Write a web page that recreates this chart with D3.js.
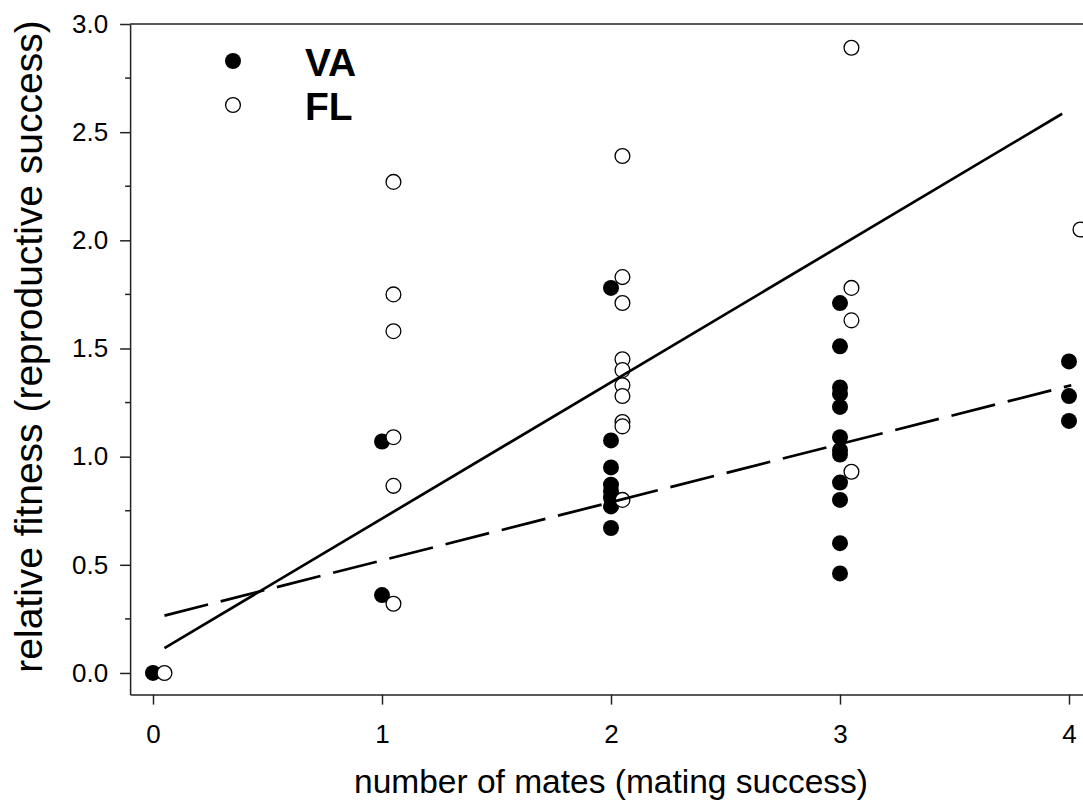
<!DOCTYPE html>
<html>
<head>
<meta charset="utf-8">
<script src="https://cdn.jsdelivr.net/npm/d3@7/dist/d3.min.js"></script>
<style>
  html, body { margin: 0; padding: 0; background: #fff; }
  svg { display: block; }
  text { font-family: Arial, "Liberation Sans", sans-serif; fill: #000; }
</style>
</head>
<body>
<svg id="chart" width="1083" height="812"></svg>
<script>
// Number of mates (mating success) for each group of males
const mates = [0, 1, 2, 3, 4];

// Relative fitness values per mate count, VA population
const vaFitness = [
  [0],
  [1.07, 0.36],
  [1.78, 1.075, 0.95, 0.87, 0.84, 0.81, 0.77, 0.67],
  [1.71, 1.51, 1.32, 1.29, 1.23, 1.09, 1.03, 1.01, 0.88, 0.80, 0.60, 0.46],
  [1.44, 1.28, 1.165]
];

// Relative fitness values per mate count, FL population
const flFitness = [
  [0],
  [2.27, 1.75, 1.58, 1.09, 0.865, 0.32],
  [2.39, 1.83, 1.71, 1.45, 1.40, 1.33, 1.28, 1.16, 1.14, 0.80],
  [2.89, 1.78, 1.63, 0.93],
  [2.05]
];

// Regression line end points
const vaFitX = [0.05, 4.01];
const vaFitY = [0.265, 1.33];
const flFitX = [0.05, 3.97];
const flFitY = [0.115, 2.585];

// Axis ticks
const xTicks = [0, 1, 2, 3, 4];
const yTicks = [0, 0.5, 1.0, 1.5, 2.0, 2.5, 3.0];
const yMinorTicks = [0.25, 0.75, 1.25, 1.75, 2.25, 2.75];

const seriesNames = ["VA", "FL"];

// FL points are nudged right so they do not hide the VA points
const flShift = 0.05;

const svg = d3.select("#chart");

const x = d3.scaleLinear().domain([-0.1, 4.2]).range([130.1, 1114.8]);
const y = d3.scaleLinear().domain([-0.1, 3.0]).range([694.6, 24]);

const points = (groups, shift) =>
  groups.flatMap((vals, i) => vals.map(v => ({ x: mates[i] + shift, y: v })));

const r = 8;

// frame line along the top
svg.append("line")
  .attr("x1", x(-0.1)).attr("x2", x(4.2))
  .attr("y1", y(3.0)).attr("y2", y(3.0))
  .attr("stroke", "#222").attr("stroke-width", 1.6);

// y axis
const yAxis = svg.append("g")
  .attr("transform", `translate(${x(-0.1)},0)`)
  .call(d3.axisLeft(y).tickValues(yTicks).tickFormat(d3.format(".1f"))
    .tickSize(10).tickSizeOuter(0).tickPadding(12));
yAxis.call(g => g.selectAll("text").attr("font-size", 26).attr("font-family", null));
yAxis.selectAll("path, line").attr("stroke", "#222").attr("stroke-width", 1.5);

svg.append("g")
  .attr("transform", `translate(${x(-0.1)},0)`)
  .selectAll("line").data(yMinorTicks).join("line")
  .attr("x1", -5).attr("x2", 0)
  .attr("y1", d => y(d)).attr("y2", d => y(d))
  .attr("stroke", "#222").attr("stroke-width", 1.5);

// x axis
const xAxis = svg.append("g")
  .attr("transform", `translate(0,${y(-0.1)})`)
  .call(d3.axisBottom(x).tickValues(xTicks).tickFormat(d3.format("d"))
    .tickSize(10).tickSizeOuter(0).tickPadding(20));
xAxis.call(g => g.selectAll("text").attr("font-size", 26).attr("font-family", null));
xAxis.selectAll("path, line").attr("stroke", "#222").attr("stroke-width", 1.5);

// axis titles
svg.append("text")
  .attr("x", x(2)).attr("y", 793)
  .attr("text-anchor", "middle")
  .attr("font-size", 33.5)
  .text("number of mates (mating success)");

svg.append("text")
  .attr("transform", `translate(42,${y(1.5) - 2}) rotate(-90)`)
  .attr("text-anchor", "middle")
  .attr("font-size", 39)
  .text("relative fitness (reproductive success)");

// VA points (filled)
svg.append("g").selectAll("circle").data(points(vaFitness, 0)).join("circle")
  .attr("cx", d => x(d.x)).attr("cy", d => y(d.y)).attr("r", r)
  .attr("fill", "#000");

// FL points (open)
svg.append("g").selectAll("circle").data(points(flFitness, flShift)).join("circle")
  .attr("cx", d => x(d.x)).attr("cy", d => y(d.y)).attr("r", r - 0.6)
  .attr("fill", "#fff").attr("stroke", "#000").attr("stroke-width", 1.3);

// regression lines
const line = d3.line().x(d => x(d[0])).y(d => y(d[1]));
svg.append("path")
  .attr("d", line(d3.zip(flFitX, flFitY)))
  .attr("fill", "none").attr("stroke", "#000").attr("stroke-width", 2.7);
svg.append("path")
  .attr("d", line(d3.zip(vaFitX, vaFitY)))
  .attr("fill", "none").attr("stroke", "#000").attr("stroke-width", 2.7)
  .attr("stroke-dasharray", "45,13");

// legend
const legend = svg.append("g");
legend.append("circle").attr("cx", 233).attr("cy", 61).attr("r", r).attr("fill", "#000");
legend.append("circle").attr("cx", 233).attr("cy", 105).attr("r", r - 0.6)
  .attr("fill", "#fff").attr("stroke", "#000").attr("stroke-width", 1.3);
legend.selectAll("text").data(seriesNames).join("text")
  .attr("x", 305).attr("y", (d, i) => 76 + i * 44)
  .attr("font-size", 39).attr("font-weight", "bold")
  .text(d => d);
</script>
</body>
</html>
